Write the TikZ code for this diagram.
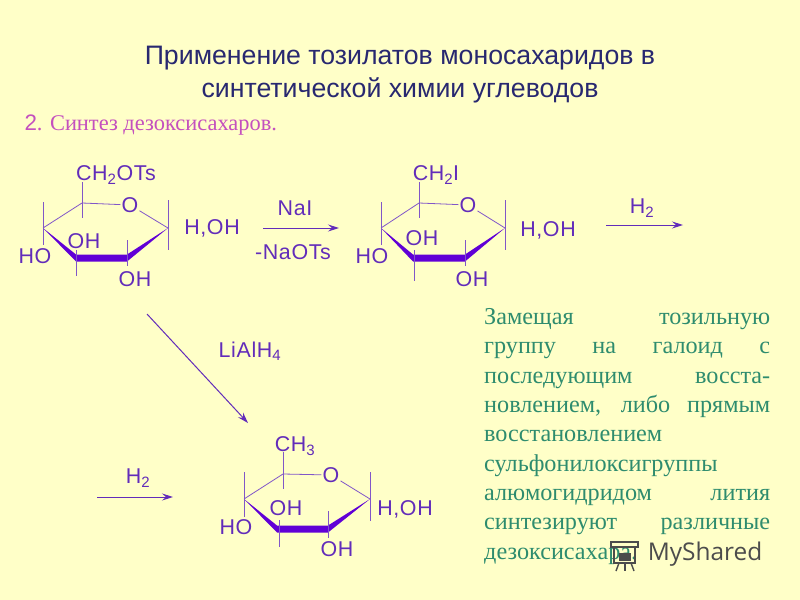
\documentclass[tikz,border=0pt]{standalone}
\usepackage{fontspec}
\setmainfont{Liberation Serif}
\newfontfamily\headfont{Liberation Sans}
\newfontfamily\chemfont[LetterSpace=3]{Liberation Sans}
\newfontfamily\markfont{Open Sans}
\usetikzlibrary{arrows.meta}
\definecolor{paper}{RGB}{255,255,200}
\definecolor{chem}{RGB}{98,44,186}
\definecolor{wedge}{RGB}{96,0,214}
\definecolor{headblue}{RGB}{40,40,112}
\definecolor{pink}{RGB}{196,80,190}
\definecolor{sea}{RGB}{46,140,110}
\tikzset{
  atom/.style={inner sep=1bp,text=chem,font=\chemfont\fontsize{21.5}{24}\selectfont},
  bond/.style={draw=chem!80,line width=0.8bp},
  ringfill/.style={fill=wedge,draw=none},
  react/.style={-{Stealth[length=11bp,width=7bp,inset=4bp]},draw=chem,line width=1bp},
  head/.style={align=center,text=headblue,font=\headfont\fontsize{26.8}{33}\selectfont}
}

\begin{document}
\begin{tikzpicture}

\fill[paper] (0bp,0bp) rectangle (800bp,-600bp);
\useasboundingbox (0bp,0bp) rectangle (800bp,-600bp);

\node (title) at (400bp,-75bp)[head] {Применение тозилатов моносахаридов в\\синтетической химии углеводов};
\node (sub) at (21bp,-125bp)[anchor=west,text=pink,font=\fontsize{22.5}{26}\selectfont] {{\headfont 2}. Синтез дезоксисахаров.};

% first sugar
\coordinate (C14) at (43bp,-228bp);
\coordinate (C13) at (76bp,-258bp);
\coordinate (C12) at (127bp,-258bp);
\coordinate (C11) at (168bp,-228bp);
\coordinate (C15) at (82bp,-203bp);
\node (O1) at (130bp,-205bp)[atom] {O};
\node (R1) at (116bp,-175bp)[atom] {CH\textsubscript{2}OTs};
\node (HO1) at (35bp,-256bp)[atom] {HO};
\node (OH13) at (84bp,-241bp)[atom] {OH};
\node (OH12) at (135bp,-279bp)[atom] {OH};
\node (A1) at (212bp,-228bp)[atom] {H,OH};
\coordinate (U14) at (43bp,-202bp);
\coordinate (D14) at (43bp,-245bp);
\coordinate (U15) at (82bp,-182bp);
\coordinate (D15) at (82bp,-218bp);
\coordinate (U13) at (76bp,-250bp);
\coordinate (D13) at (76bp,-276bp);
\coordinate (U12) at (127bp,-240bp);
\coordinate (D12) at (127bp,-266bp);
\coordinate (U11) at (168bp,-200bp);
\coordinate (D11) at (168bp,-250bp);
\fill[ringfill] (C14) -- ([yshift=3.5bp]C13) -- ([yshift=3.5bp]C12) -- (C11) -- ([yshift=-3.5bp]C12) -- ([yshift=-3.5bp]C13) -- cycle;
\draw[bond] (C14) -- (C15) -- (O1) -- (C11);
\draw[bond] (U14) -- (D14);
\draw[bond] (U15) -- (D15);
\draw[bond] (U13) -- (D13);
\draw[bond] (U12) -- (D12);
\draw[bond] (U11) -- (D11);

% first step
\coordinate (S1) at (263bp,-228bp);
\coordinate (E1) at (339bp,-228bp);
\draw[react] (S1) -- (E1);
\node (NaI) at (295bp,-208bp)[atom] {NaI};
\node (NaOTs) at (293bp,-252bp)[atom] {-NaOTs};

% second sugar
\coordinate (C24) at (381bp,-228bp);
\coordinate (C23) at (413bp,-258bp);
\coordinate (C22) at (465bp,-258bp);
\coordinate (C21) at (505bp,-228bp);
\coordinate (C25) at (419bp,-203bp);
\node (O2) at (468bp,-205bp)[atom] {O};
\node (R2) at (436bp,-175bp)[atom] {CH\textsubscript{2}I};
\node (HO2) at (372bp,-256bp)[atom] {HO};
\node (OH23) at (422bp,-238bp)[atom] {OH};
\node (OH22) at (472bp,-279bp)[atom] {OH};
\node (A2) at (548bp,-230bp)[atom] {H,OH};
\coordinate (U24) at (381bp,-202bp);
\coordinate (D24) at (381bp,-245bp);
\coordinate (U25) at (419bp,-182bp);
\coordinate (D25) at (419bp,-218bp);
\coordinate (U23) at (414bp,-250bp);
\coordinate (D23) at (414bp,-281bp);
\coordinate (U22) at (465bp,-240bp);
\coordinate (D22) at (465bp,-266bp);
\coordinate (U21) at (505bp,-200bp);
\coordinate (D21) at (505bp,-250bp);
\fill[ringfill] (C24) -- ([yshift=3.5bp]C23) -- ([yshift=3.5bp]C22) -- (C21) -- ([yshift=-3.5bp]C22) -- ([yshift=-3.5bp]C23) -- cycle;
\draw[bond] (C24) -- (C25) -- (O2) -- (C21);
\draw[bond] (U24) -- (D24);
\draw[bond] (U25) -- (D25);
\draw[bond] (U23) -- (D23);
\draw[bond] (U22) -- (D22);
\draw[bond] (U21) -- (D21);

% hydrogen and hydride steps
\coordinate (S2) at (606bp,-225bp);
\coordinate (E2) at (683bp,-225bp);
\draw[react] (S2) -- (E2);
\node (H2a) at (642bp,-208bp)[atom] {H\textsubscript{2}};
\coordinate (S3) at (147bp,-314bp);
\coordinate (E3) at (248bp,-423bp);
\draw[react] (S3) -- (E3);
\node (Li) at (250bp,-351bp)[atom] {LiAlH\textsubscript{4}};
\coordinate (S4) at (97bp,-497bp);
\coordinate (E4) at (173bp,-497bp);
\draw[react] (S4) -- (E4);
\node (H2b) at (138bp,-478bp)[atom] {H\textsubscript{2}};

% third sugar
\coordinate (C34) at (244bp,-499bp);
\coordinate (C33) at (277bp,-529bp);
\coordinate (C32) at (328bp,-529bp);
\coordinate (C31) at (370bp,-499bp);
\coordinate (C35) at (283bp,-474bp);
\node (O3) at (331bp,-475bp)[atom] {O};
\node (R3) at (295bp,-446bp)[atom] {CH\textsubscript{3}};
\node (HO3) at (236bp,-527bp)[atom] {HO};
\node (OH33) at (286bp,-508bp)[atom] {OH};
\node (OH32) at (337bp,-549bp)[atom] {OH};
\node (A3) at (405bp,-509bp)[atom] {H,OH};
\coordinate (U34) at (244bp,-472bp);
\coordinate (D34) at (244bp,-517bp);
\coordinate (U35) at (283bp,-452bp);
\coordinate (D35) at (283bp,-489bp);
\coordinate (U33) at (279bp,-520bp);
\coordinate (D33) at (279bp,-547bp);
\coordinate (U32) at (328bp,-511bp);
\coordinate (D32) at (328bp,-538bp);
\coordinate (U31) at (370bp,-472bp);
\coordinate (D31) at (370bp,-521bp);
\fill[ringfill] (C34) -- ([yshift=3.5bp]C33) -- ([yshift=3.5bp]C32) -- (C31) -- ([yshift=-3.5bp]C32) -- ([yshift=-3.5bp]C33) -- cycle;
\draw[bond] (C34) -- (C35) -- (O3) -- (C31);
\draw[bond] (U34) -- (D34);
\draw[bond] (U35) -- (D35);
\draw[bond] (U33) -- (D33);
\draw[bond] (U32) -- (D32);
\draw[bond] (U31) -- (D31);

\node (note) at (484bp,-308bp)[anchor=north west,inner sep=0bp,text width=286bp,align=justify,text=sea,font=\fontsize{24.3}{29.5}\selectfont] {Замещая тозильную\linebreak группу на галоид с\linebreak последующим восста-\linebreak новлением, либо прямым\linebreak восстановлением\\ сульфонилоксигруппы\\ алюмогидридом лития\linebreak синтезируют различные\linebreak дезоксисахара.};

% watermark
\draw[black!70,line width=1.4bp] (611bp,-542bp) rectangle (638bp,-547bp);
\draw[black!70,line width=1.4bp] (614bp,-547bp) rectangle (635bp,-563bp);
\fill[black!70] (619bp,-553bp) rectangle (631bp,-561bp);
\draw[black!70,line width=1.4bp] (619bp,-563bp) -- (616bp,-571bp);
\draw[black!70,line width=1.4bp] (625bp,-563bp) -- (625bp,-571bp);
\draw[black!70,line width=1.4bp] (631bp,-563bp) -- (634bp,-571bp);
\node (mark) at (705bp,-554bp)[text=black!70,font=\markfont\fontsize{24.5}{28}\selectfont] {MyShared};
\end{tikzpicture}
\end{document}
